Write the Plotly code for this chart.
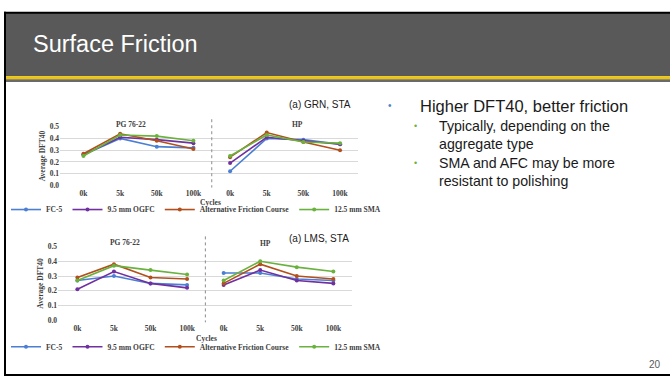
import plotly.graph_objects as go

W, H = 670, 382

# ---------------- data ----------------
cycles = ["0k", "5k", "50k", "100k"]
panels = ["PG 76-22", "HP"]
series = ["FC-5", "9.5 mm OGFC", "Alternative Friction Course", "12.5 mm SMA"]
colors = ["#4A7FD4", "#7030A0", "#B24F1C", "#6AB23E"]

# chart (a) GRN, STA  -- rows follow `series`
grn_pg = [
    [0.26, 0.40, 0.33, 0.32],
    [0.26, 0.41, 0.39, 0.36],
    [0.27, 0.44, 0.38, 0.31],
    [0.25, 0.43, 0.42, 0.38],
]
grn_hp = [
    [0.12, 0.40, 0.39, 0.35],
    [0.19, 0.41, 0.38, 0.35],
    [0.24, 0.45, 0.37, 0.30],
    [0.25, 0.43, 0.37, 0.36],
]
# chart (a) LMS, STA
lms_pg = [
    [0.27, 0.30, 0.25, 0.24],
    [0.21, 0.33, 0.25, 0.22],
    [0.29, 0.38, 0.29, 0.28],
    [0.27, 0.37, 0.34, 0.31],
]
lms_hp = [
    [0.32, 0.32, 0.28, 0.27],
    [0.24, 0.34, 0.27, 0.25],
    [0.25, 0.38, 0.30, 0.28],
    [0.27, 0.40, 0.36, 0.33],
]
y_ticks = [0.0, 0.1, 0.2, 0.3, 0.4, 0.5]

title_text = "Surface Friction"
bullet_main = "Higher DFT40, better friction"
bullet_subs = ["Typically, depending on the", "aggregate type",
               "SMA and AFC may be more", "resistant to polishing"]
chart_tags = ["(a) GRN, STA", "(a) LMS, STA"]
page_no = "20"


def fx(px):
    return px / W


def fy(py):
    return 1 - py / H


SERIF = "Liberation Serif"
SANS = "Liberation Sans"
TICK_COLOR = "#404040"

fig = go.Figure()

# chart geometry (pixels) : x-left, x-right, y-top(0.5), y-bottom(0.0), x-range
charts = [
    dict(data=[grn_pg, grn_hp], xl=60, xr=358, yt=125.7, yb=185.7,
         xrange=[-0.64, 7.49], legend="legend", ax="", leg_y=210.5,
         tag_xy=(287, 103), pg_xy=(131, 123), hp_xy=(297, 123),
         cyc_y=203.5, div=(118, 188)),
    dict(data=[lms_pg, lms_hp], xl=58, xr=352, yt=248.3, yb=324,
         xrange=[-0.53, 7.51], legend="legend2", ax="2", leg_y=351,
         tag_xy=(287, 240), pg_xy=(125, 244.5), hp_xy=(265, 245.5),
         cyc_y=342.5, div=(238, 326)),
]

annotations = []
shapes = []

for ci, ch in enumerate(charts):
    xa = "x" + ch["ax"]
    ya = "y" + ch["ax"]
    for pi, pdata in enumerate(ch["data"]):
        for si, name in enumerate(series):
            fig.add_trace(go.Scatter(
                x=[pi * len(cycles) + i for i in range(len(cycles))],
                y=pdata[si],
                mode="lines+markers",
                name=name,
                legendgroup=f"{ci}-{name}",
                showlegend=(pi == 0),
                legend=ch["legend"],
                line=dict(color=colors[si], width=1.6),
                marker=dict(color=colors[si], size=4),
                xaxis=xa, yaxis=ya,
                cliponaxis=False,
                hoverinfo="skip",
            ))
    xkey = "xaxis" + ch["ax"]
    ykey = "yaxis" + ch["ax"]
    fig.layout[xkey] = dict(
        domain=[fx(ch["xl"]), fx(ch["xr"])], range=ch["xrange"],
        anchor=ya, tickvals=list(range(2 * len(cycles))),
        ticktext=cycles * 2, showgrid=False, zeroline=False,
        showline=False, ticks="", fixedrange=True,
        tickfont=dict(family=SERIF, size=7.5, color=TICK_COLOR, weight="bold"),
        ticklabelstandoff=2,
    )
    fig.layout[ykey] = dict(
        domain=[fy(ch["yb"]), fy(ch["yt"])], range=[0, 0.5],
        anchor=xa, tickvals=y_ticks, tickformat=".1f",
        showgrid=True, gridcolor="#D9D9D9", gridwidth=0.8,
        zeroline=False, showline=False, ticks="", fixedrange=True,
        tickfont=dict(family=SERIF, size=7.5, color=TICK_COLOR, weight="bold"),
        title=dict(text="Average DFT40", standoff=2,
                   font=dict(family=SERIF, size=7.5, color=TICK_COLOR, weight="bold")),
    )
    # legend
    fig.layout[ch["legend"]] = dict(
        orientation="h", x=fx(196), xanchor="center",
        y=fy(ch["leg_y"]), yanchor="middle",
        font=dict(family=SERIF, size=7.5, color=TICK_COLOR, weight="bold"),
        bgcolor="rgba(0,0,0,0)", itemwidth=30, tracegroupgap=0,
    )
    # divider between panels
    shapes.append(dict(type="line", xref=xa, yref="paper",
                       x0=3.5, x1=3.5, y0=fy(ch["div"][0]), y1=fy(ch["div"][1]),
                       line=dict(color="#8C8C8C", width=1, dash="dot")))
    # panel labels
    for lab, (px, py) in zip(panels, [ch["pg_xy"], ch["hp_xy"]]):
        annotations.append(dict(text=lab, x=fx(px), y=fy(py), xref="paper", yref="paper",
                                showarrow=False, xanchor="center", yanchor="middle",
                                font=dict(family=SERIF, size=7.5, color=TICK_COLOR, weight="bold")))
    annotations.append(dict(text="Cycles", x=fx((ch["xl"] + ch["xr"]) / 2 + 1), y=fy(ch["cyc_y"]),
                            xref="paper", yref="paper", showarrow=False,
                            xanchor="center", yanchor="middle",
                            font=dict(family=SERIF, size=7.5, color=TICK_COLOR, weight="bold")))
    tx, ty = ch["tag_xy"]
    annotations.append(dict(text=chart_tags[ci], x=fx(tx), y=fy(ty), xref="paper", yref="paper",
                            showarrow=False, xanchor="left", yanchor="middle",
                            font=dict(family=SANS, size=10, color="#1A1A1A")))

# ---------------- slide decoration ----------------
deco = [
    # header gray
    dict(type="rect", x0=fx(5), x1=fx(670), y0=fy(74), y1=fy(9), fillcolor="#595959", line_width=0),
    # yellow bar
    dict(type="rect", x0=fx(5), x1=fx(670), y0=fy(77), y1=fy(74), fillcolor="#F0C400", line_width=0),
    # dark strip
    dict(type="rect", x0=fx(5), x1=fx(670), y0=fy(80), y1=fy(77), fillcolor="#6A6A6A", line_width=0),
    # border lines
    dict(type="rect", x0=fx(4), x1=fx(670), y0=fy(10), y1=fy(8), fillcolor="#000000", line_width=0),
    dict(type="rect", x0=fx(4), x1=fx(6), y0=fy(381), y1=fy(8), fillcolor="#000000", line_width=0),
    dict(type="rect", x0=fx(4), x1=fx(670), y0=fy(381), y1=fy(379), fillcolor="#000000", line_width=0),
]
for d in deco:
    d.update(xref="paper", yref="paper", layer="below")
shapes = deco + shapes

annotations.append(dict(text=title_text, x=fx(31), y=fy(41), xref="paper", yref="paper",
                        showarrow=False, xanchor="left", yanchor="middle",
                        font=dict(family=SANS, size=23.5, color="#FFFFFF")))
# bullets
annotations.append(dict(text="•", x=fx(390), y=fy(104), xref="paper", yref="paper",
                        showarrow=False, xanchor="center", yanchor="middle",
                        font=dict(family=SANS, size=10, color="#4A86C8")))
annotations.append(dict(text=bullet_main, x=fx(418), y=fy(104), xref="paper", yref="paper",
                        showarrow=False, xanchor="left", yanchor="middle",
                        font=dict(family=SANS, size=16.5, color="#1A1A1A")))
sub_y = [125, 143.5, 162.5, 181]
for i, (txt, yy) in enumerate(zip(bullet_subs, sub_y)):
    if i in (0, 2):
        annotations.append(dict(text="•", x=fx(415), y=fy(yy), xref="paper", yref="paper",
                                showarrow=False, xanchor="center", yanchor="middle",
                                font=dict(family=SANS, size=9, color="#6AB23E")))
    annotations.append(dict(text=txt, x=fx(437), y=fy(yy), xref="paper", yref="paper",
                            showarrow=False, xanchor="left", yanchor="middle",
                            font=dict(family=SANS, size=14.2, color="#1A1A1A")))
annotations.append(dict(text=page_no, x=fx(663), y=fy(369), xref="paper", yref="paper",
                        showarrow=False, xanchor="right", yanchor="middle",
                        font=dict(family=SANS, size=10, color="#595959")))

fig.update_layout(
    width=W, height=H, margin=dict(l=0, r=0, t=0, b=0),
    paper_bgcolor="#FFFFFF", plot_bgcolor="rgba(0,0,0,0)",
    shapes=shapes, annotations=annotations, hovermode=False,
)

fig.write_html("out.html", config={"displayModeBar": False})
